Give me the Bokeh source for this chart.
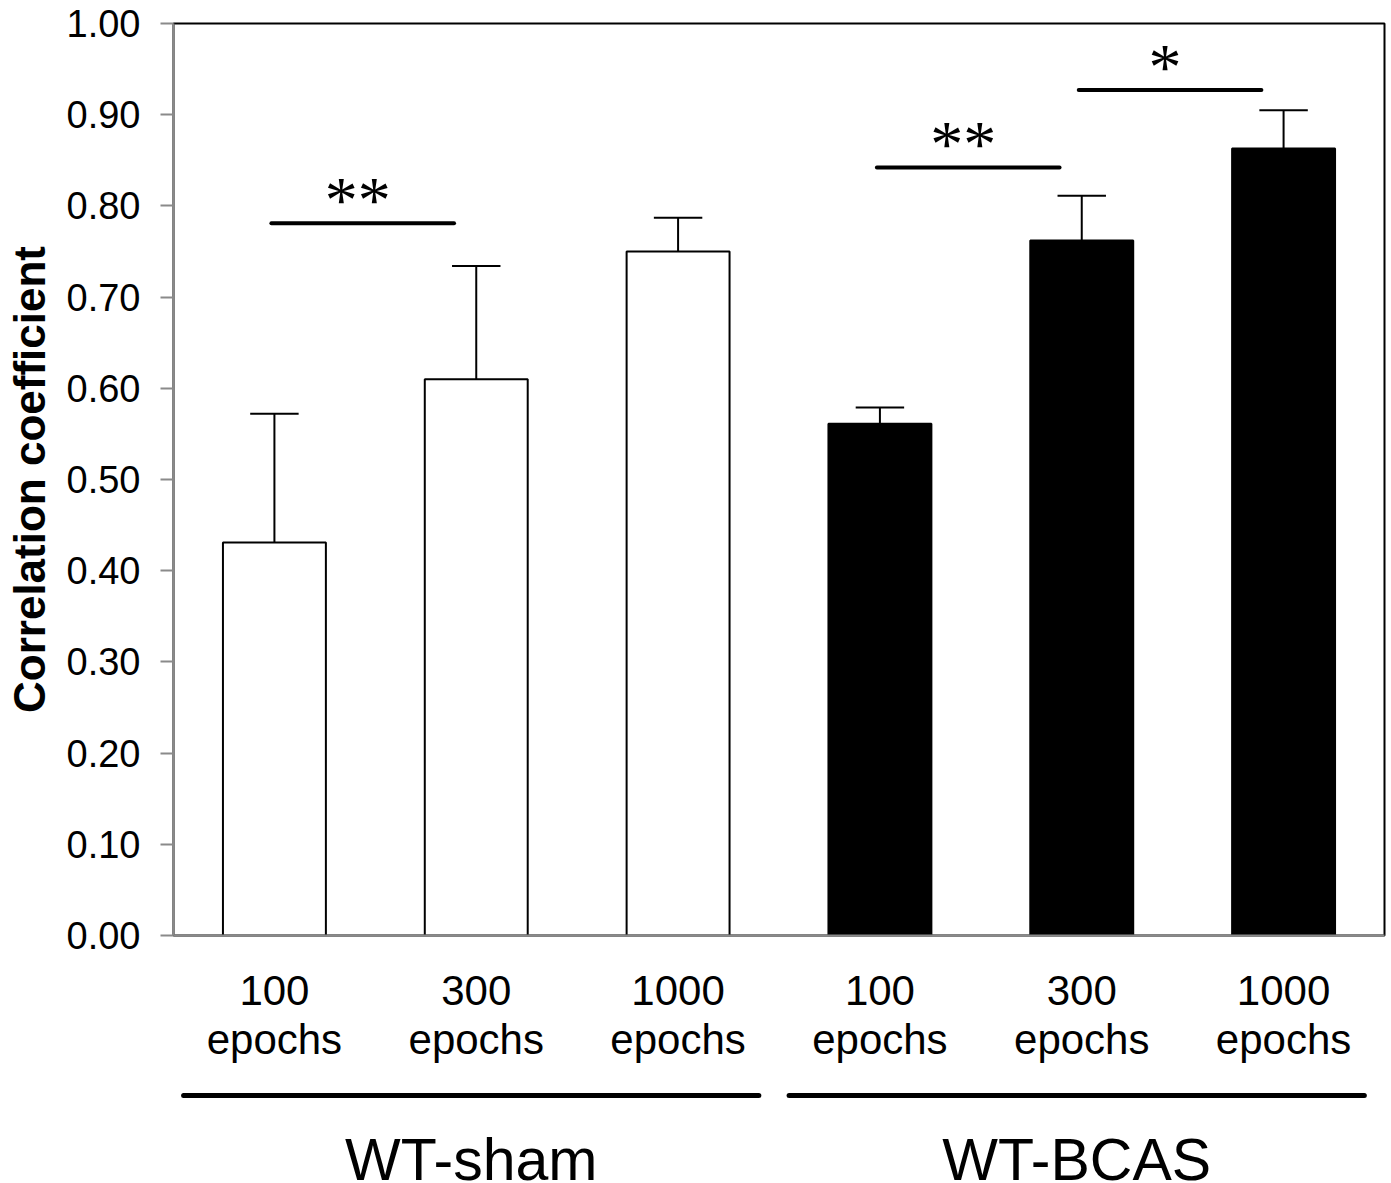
from bokeh.plotting import figure
from bokeh.models import Range1d, FixedTicker, PrintfTickFormatter, ColumnDataSource
from bokeh.layouts import column
from bokeh.embed import file_html
from bokeh.resources import INLINE
from bokeh.core.properties import value

# ---------------- data ----------------
categories = ["100\nepochs", "300\nepochs", "1000\nepochs",
              "100\nepochs", "300\nepochs", "1000\nepochs"]
groups = ["WT-sham", "WT-BCAS"]
group_of_bar = [0, 0, 0, 1, 1, 1]
means = [0.431, 0.610, 0.750, 0.561, 0.762, 0.863]
errors = [0.141, 0.124, 0.037, 0.018, 0.049, 0.042]
y_ticks = [0.0, 0.1, 0.2, 0.3, 0.4, 0.5, 0.6, 0.7, 0.8, 0.9, 1.0]
sig_from = [0, 3, 4]
sig_to = [1, 4, 5]
sig_y = [0.781, 0.842, 0.927]
sig_labels = ["**", "**", "*"]

# ---------------- styles ----------------
SANS = "Liberation Sans"
SERIF = "Liberation Serif"
GRAY = "#8a8a8a"
bar_fill = ["white", "black"]
W = 1388

xs = [i + 0.5 for i in range(len(means))]
tops = [m + e for m, e in zip(means, errors)]

p = figure(width=W, height=1068, output_backend="svg", toolbar_location=None,
           x_range=Range1d(0, len(means)), y_range=Range1d(0, 1.0),
           min_border_left=173, min_border_right=4, min_border_top=23,
           min_border_bottom=133)
p.xgrid.visible = False
p.ygrid.visible = False
p.outline_line_color = "black"
p.outline_line_width = 2
p.background_fill_color = "white"
p.border_fill_color = "white"

src = ColumnDataSource(dict(x=xs, top=means, fill=[bar_fill[g] for g in group_of_bar]))
p.vbar(x="x", top="top", bottom=0, width=0.51, source=src, fill_color="fill",
       line_color="black", line_width=2)

# error bars (upper only)
p.segment(x0=xs, y0=means, x1=xs, y1=tops, line_color="black", line_width=2)
p.segment(x0=[x - 0.12 for x in xs], y0=tops, x1=[x + 0.12 for x in xs], y1=tops,
          line_color="black", line_width=2)

# significance markers
sx0 = [xs[i] - 0.015 for i in sig_from]
sx1 = [xs[j] - 0.11 for j in sig_to]
p.segment(x0=sx0, y0=sig_y, x1=sx1, y1=sig_y, line_color="black", line_width=4,
          line_cap="round")
p.text(x=[(a + b) / 2 - 0.025 for a, b in zip(sx0, sx1)], y=sig_y, text=sig_labels,
       text_font=value(SERIF), text_font_size="66px", text_align="center",
       text_baseline="middle", y_offset=-24, text_color="black")

# axes
p.yaxis.ticker = FixedTicker(ticks=y_ticks)
p.yaxis.formatter = PrintfTickFormatter(format="%.2f")
p.yaxis.axis_label = "Correlation coefficient"
p.yaxis.axis_label_text_font = SANS
p.yaxis.axis_label_text_font_style = "bold"
p.yaxis.axis_label_text_font_size = "44px"
p.yaxis.axis_label_text_color = "black"
p.yaxis.axis_label_standoff = 10
p.yaxis.major_label_text_font = SANS
p.yaxis.major_label_text_font_size = "38px"
p.yaxis.major_label_text_color = "black"
p.yaxis.major_label_standoff = 20
p.yaxis.major_tick_out = 13
p.yaxis.major_tick_in = 0
p.yaxis.minor_tick_line_color = None
p.yaxis.major_tick_line_color = GRAY
p.yaxis.major_tick_line_width = 2
p.yaxis.axis_line_color = GRAY
p.yaxis.axis_line_width = 2

p.xaxis.ticker = FixedTicker(ticks=xs)
p.xaxis.major_label_overrides = {x: c for x, c in zip(xs, categories)}
p.xaxis.major_label_text_font = SANS
p.xaxis.major_label_text_font_size = "42px"
p.xaxis.major_label_text_color = "black"
p.xaxis.major_label_text_line_height = 1.05
p.xaxis.major_label_standoff = 31
p.xaxis.major_tick_out = 0
p.xaxis.major_tick_in = 0
p.xaxis.minor_tick_line_color = None
p.xaxis.axis_line_color = GRAY
p.xaxis.axis_line_width = 2

# ---------------- group labels ----------------
GH = 115
g = figure(width=W, height=GH, output_backend="svg", toolbar_location=None,
           x_range=p.x_range, y_range=Range1d(GH, 0),
           min_border_left=173, min_border_right=4, min_border_top=0,
           min_border_bottom=0)
g.axis.visible = False
g.xgrid.visible = False
g.ygrid.visible = False
g.outline_line_color = None
g.background_fill_color = "white"
g.border_fill_color = "white"

g_first = [group_of_bar.index(k) for k in range(len(groups))]
g_last = [len(group_of_bar) - 1 - group_of_bar[::-1].index(k) for k in range(len(groups))]
gx0 = [f + 0.05 for f in g_first]
gx1 = [l + 1 - 0.1 for l in g_last]
g.segment(x0=gx0, y0=[27] * len(groups), x1=gx1, y1=[27] * len(groups),
          line_color="black", line_width=5, line_cap="round")
g.text(x=[(a + b) / 2 for a, b in zip(gx0, gx1)], y=[91] * len(groups), text=groups,
       text_font=value(SANS), text_font_size="59px", text_align="center",
       text_baseline="middle", text_color="black")

layout = column(p, g, spacing=0)
open("out.html", "w").write(file_html(layout, INLINE))
